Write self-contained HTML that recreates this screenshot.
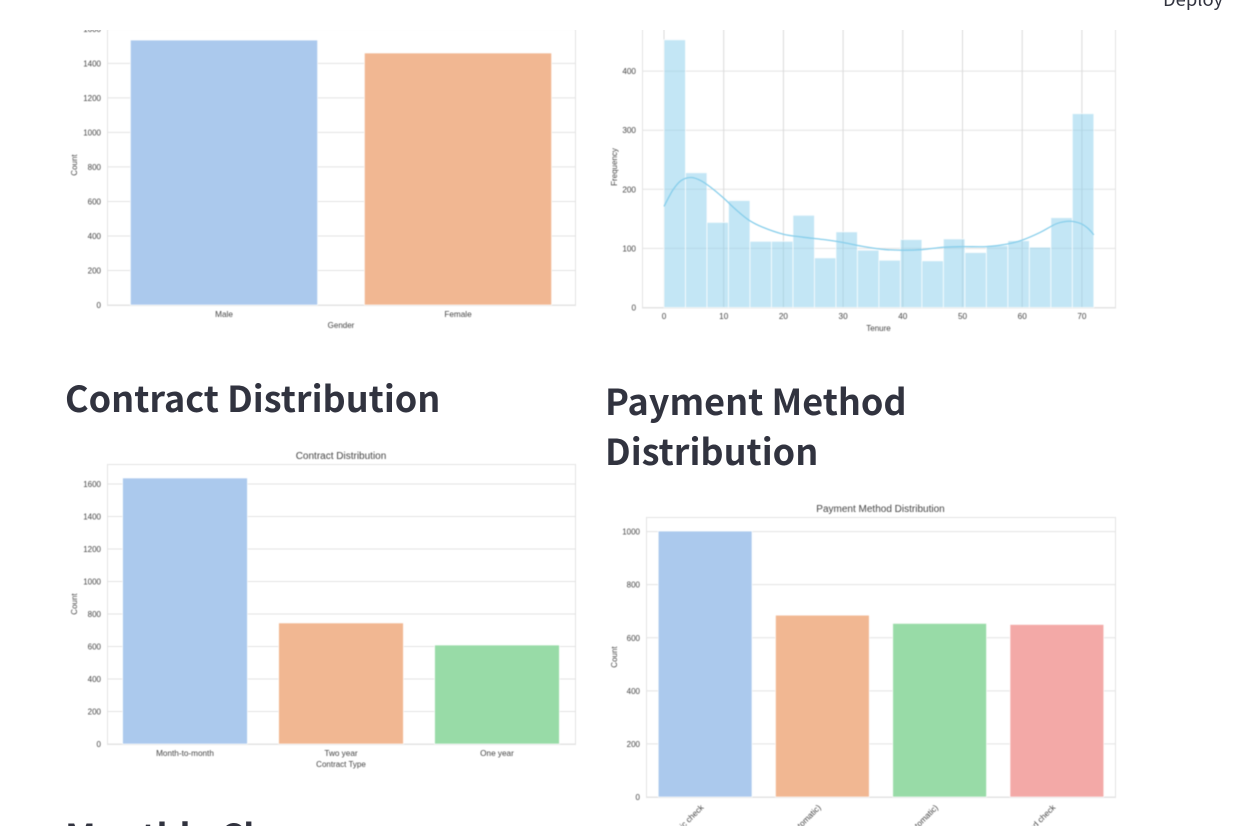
<!DOCTYPE html>
<html lang="en">
<head>
<meta charset="utf-8">
<title>Customer Distribution Charts</title>
<style>
html,body{margin:0;padding:0;background:#fff;width:1255px;height:826px;overflow:hidden;}
#page{position:relative;width:1255px;height:826px;overflow:hidden;background:#fff;}
#charts{position:absolute;left:0;top:0;filter:blur(0.45px);}
#charts text{font-family:"Liberation Sans",Arial,sans-serif;fill:#444;}
.heading{position:absolute;margin:0;font-family:"Noto Sans CJK SC","Liberation Sans",sans-serif;font-weight:700;font-size:36px;line-height:50px;color:#31333f;white-space:nowrap;}
#top-bar{position:absolute;left:0;top:0;width:1255px;height:30px;background:#fff;overflow:hidden;}
#deploy{position:absolute;left:1163px;top:-14px;font-family:"Noto Sans CJK SC","Liberation Sans",sans-serif;font-size:18.4px;line-height:26px;color:#31333f;}
</style>
</head>
<body>
<div id="page">
  <svg id="charts" width="1255" height="826" viewBox="0 0 1255 826" xmlns="http://www.w3.org/2000/svg"></svg>
  <h2 class="heading" style="left:65px;top:372px">Contract Distribution</h2>
  <h2 class="heading" style="left:605px;top:375px">Payment Method<br>Distribution</h2>
  <h2 class="heading" style="left:65px;top:810px;height:16px;overflow:hidden">Monthly Charges</h2>
  <div id="top-bar">
    <div id="deploy">Deploy</div>
  </div>
</div>
<script>
var pastelColors = ['#abc9ed', '#f1b792', '#98dba7', '#f3a9a7'];

var genderCategories = ['Male', 'Female'];
var genderCounts = [1535, 1460];
var genderTicks = [0, 200, 400, 600, 800, 1000, 1200, 1400, 1600];

var contractCategories = ['Month-to-month', 'Two year', 'One year'];
var contractCounts = [1637, 745, 609];
var contractTicks = [0, 200, 400, 600, 800, 1000, 1200, 1400, 1600];

var paymentCategories = ['Electronic check', 'Bank transfer (automatic)', 'Credit card (automatic)', 'Mailed check'];
var paymentCounts = [1002, 685, 654, 650];
var paymentTicks = [0, 200, 400, 600, 800, 1000];

var tenureHistCounts = [453, 228, 144, 181, 112, 112, 156, 84, 128, 97, 80, 115, 79, 116, 93, 105, 113, 102, 152, 328];
var tenureMax = 72;
var tenureXTicks = [0, 10, 20, 30, 40, 50, 60, 70];
var tenureYTicks = [0, 100, 200, 300, 400];
var kdeTenure = [0, 1.5, 2.9, 4.6, 6.3, 8, 10, 12, 14.2, 16.5, 20, 23.3, 26.7, 30, 33.5, 37, 40, 43.3, 46.8, 50, 54, 57.3, 60, 63, 65.8, 68, 69.8, 71, 72];
var kdeFrequency = [171, 199, 215, 220, 214, 202, 185, 166, 148, 136, 124, 119, 115, 110, 103, 98, 97, 98, 102, 103, 103, 107, 114, 127, 142, 146, 142, 134, 123];

var svg = document.getElementById('charts');
var NS = 'http://www.w3.org/2000/svg';
var GRID = '#e3e3e3';
var SPINE = '#e3e3e3';

function mk(tag, attrs, parent) {
  var el = document.createElementNS(NS, tag);
  for (var k in attrs) { el.setAttribute(k, attrs[k]); }
  parent.appendChild(el);
  return el;
}

function label(parent, txt, x, y, size, anchor, rotate) {
  var el = mk('text', { x: x, y: y, 'font-size': size, 'text-anchor': anchor }, parent);
  if (rotate) { el.setAttribute('transform', 'rotate(' + rotate + ' ' + x + ' ' + y + ')'); }
  el.textContent = txt;
  return el;
}

function drawFrame(g, box) {
  var f = mk('rect', { x: box.left + 0.5, y: box.top + 0.5, width: box.right - box.left, height: box.bottom - box.top, fill: 'none', stroke: SPINE, 'stroke-width': 1 }, g);
  
  
}

function drawBarChart(name, box, cats, vals, ticks, perUnit, opts) {
  var g = mk('g', {}, svg);
  
  
  function y(v) { return box.bottom - v * perUnit; }
  var band = (box.right - box.left) / cats.length;
  function x(i) { return box.left + band * (i + 0.5) + (opts.barShift || 0); }

  ticks.forEach(function (t) {
    var line = mk('line', { x1: box.left, x2: box.right, y1: y(t), y2: y(t), stroke: GRID, 'stroke-width': 1 }, g);
    
    
    var tl = label(g, t, box.left - 6, y(t) + 3, 8, 'end');
    
    
  });
  drawFrame(g, box);

  cats.forEach(function (c, i) {
    var w = band * 0.8;
    var bar = mk('rect', { x: x(i) - w / 2, y: y(vals[i]), width: w, height: vals[i] * perUnit, fill: pastelColors[i], stroke: '#ffffff', 'stroke-width': 0.8, 'stroke-opacity': 0.85 }, g);
    
    
    var tl;
    if (opts.rotateTicks) {
      tl = label(g, c, x(i) - 1, box.bottom + 11, 8.2, 'end', -45);
    } else {
      tl = label(g, c, x(i), box.bottom + 12, 8.2, 'middle');
    }
    
    
  });

  var yt = label(g, 'Count', opts.yLabelX, (box.top + box.bottom) / 2, 8, 'middle', -90);
  
  
  if (opts.xLabel) {
    var xt = label(g, opts.xLabel, (box.left + box.right) / 2, box.bottom + 23, 8, 'middle');
    
    
  }
  if (opts.title) {
    var tt = label(g, opts.title, (box.left + box.right) / 2, box.top - 5, 10, 'middle');
    
    
  }
}

function drawHistogram() {
  var box = { left: 642, right: 1115, top: 27, bottom: 307.5 };
  var g = mk('g', {}, svg);
  
  
  var xUnit = 5.97;
  var yUnit = 0.591;
  function x(v) { return 664 + v * xUnit; }
  function y(v) { return box.bottom - v * yUnit; }

  tenureYTicks.forEach(function (t) {
    var line = mk('line', { x1: box.left, x2: box.right, y1: y(t), y2: y(t), stroke: GRID, 'stroke-width': 1 }, g);
    
    
    var tl = label(g, t, box.left - 6, y(t) + 3, 8.2, 'end');
    
    
  });
  tenureXTicks.forEach(function (t) {
    var line = mk('line', { x1: x(t), x2: x(t), y1: box.top, y2: box.bottom, stroke: '#dadada', 'stroke-width': 1 }, g);
    
    
    var tl = label(g, t, x(t), box.bottom + 11.5, 8.2, 'middle');
    
    
  });
  drawFrame(g, box);

  var binW = tenureMax / tenureHistCounts.length;
  tenureHistCounts.forEach(function (c, i) {
    var bar = mk('rect', { x: x(i * binW), y: y(c), width: binW * xUnit, height: c * yUnit, fill: '#87ceeb', 'fill-opacity': 0.5, stroke: '#ffffff', 'stroke-width': 0.9, 'stroke-opacity': 0.8 }, g);
    
    
  });

  var pts = kdeTenure.map(function (t, i) { return [x(t), y(kdeFrequency[i])]; });
  var d = 'M' + pts[0][0] + ' ' + pts[0][1];
  for (var i = 0; i < pts.length - 1; i++) {
    var p0 = pts[Math.max(i - 1, 0)], p1 = pts[i], p2 = pts[i + 1], p3 = pts[Math.min(i + 2, pts.length - 1)];
    d += ' C' + (p1[0] + (p2[0] - p0[0]) / 6) + ' ' + (p1[1] + (p2[1] - p0[1]) / 6) + ' ' +
         (p2[0] - (p3[0] - p1[0]) / 6) + ' ' + (p2[1] - (p3[1] - p1[1]) / 6) + ' ' + p2[0] + ' ' + p2[1];
  }
  var kde = mk('path', { d: d, fill: 'none', stroke: '#87ceeb', 'stroke-width': 1.3 }, g);
  
  

  var yt = label(g, 'Frequency', 617, 167, 8, 'middle', -90);
  
  
  var xt = label(g, 'Tenure', 878.5, 331, 8, 'middle');
  
  
}

drawBarChart('gender-bar-chart', { left: 107, right: 575, top: 25, bottom: 305 }, genderCategories, genderCounts, genderTicks, 0.1726, { xLabel: 'Gender', yLabelX: 77 });
drawHistogram();
drawBarChart('contract-bar-chart', { left: 107, right: 575, top: 464, bottom: 744 }, contractCategories, contractCounts, contractTicks, 0.1625, { xLabel: 'Contract Type', yLabelX: 77, title: 'Contract Distribution' });
drawBarChart('payment-bar-chart', { left: 646, right: 1115, top: 517, bottom: 797 }, paymentCategories, paymentCounts, paymentTicks, 0.2654, { yLabelX: 617, title: 'Payment Method Distribution', rotateTicks: true, barShift: 0.5 });
</script>
</body>
</html>
